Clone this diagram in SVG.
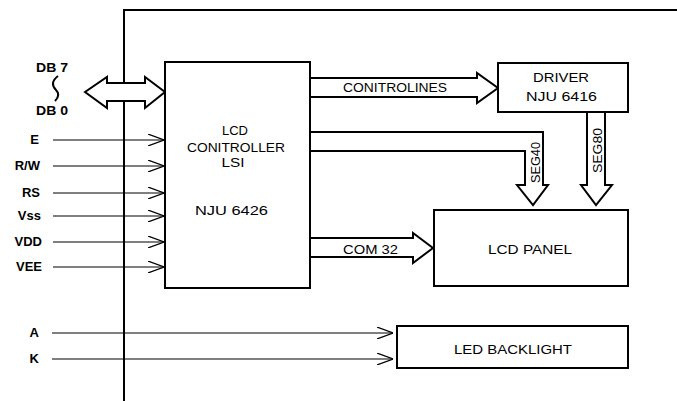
<svg xmlns="http://www.w3.org/2000/svg" width="677" height="401" viewBox="0 0 677 401">
<style>
.box{fill:#fff;stroke:#000;stroke-width:2}
.bus{fill:none;stroke:#000;stroke-width:2;stroke-linejoin:miter}
.sig{fill:none;stroke:#000;stroke-width:1.2}
.frame{fill:none;stroke:#000;stroke-width:2}
text{font-family:"Liberation Sans",Arial,sans-serif;font-size:13px;fill:#000}
.lbl{font-weight:bold}
.c{text-anchor:middle}
.r{text-anchor:end}
</style>
<defs>
<marker id="chev" viewBox="0 0 16 12" refX="16" refY="6" markerWidth="16" markerHeight="12" markerUnits="userSpaceOnUse" orient="auto">
<path d="M0,0 L16,6 L0,12" fill="none" stroke="#000" stroke-width="1.2"/>
</marker>
</defs>
<rect width="677" height="401" fill="#fff"/>
<g id="frame">
<path class="frame" d="M124,401 V10 H677"/>
</g>
<g id="connectors">
<path class="bus" d="M85,92 L107,77 L107,83 L145,83 L145,77 L165,92 L145,108 L145,101 L107,101 L107,108 Z" style="fill:#fff"/>
<path d="M58,76 Q49,83 56,90 Q61,95 55,101" fill="none" stroke="#000" stroke-width="2"/>
<line class="sig" x1="53" y1="140" x2="164" y2="140" marker-end="url(#chev)"/>
<line class="sig" x1="53" y1="166" x2="164" y2="166" marker-end="url(#chev)"/>
<line class="sig" x1="53" y1="193" x2="164" y2="193" marker-end="url(#chev)"/>
<line class="sig" x1="53" y1="216" x2="164" y2="216" marker-end="url(#chev)"/>
<line class="sig" x1="53" y1="242" x2="164" y2="242" marker-end="url(#chev)"/>
<line class="sig" x1="53" y1="267" x2="164" y2="267" marker-end="url(#chev)"/>
<line class="sig" x1="52" y1="333" x2="393" y2="333" marker-end="url(#chev)"/>
<line class="sig" x1="52" y1="359" x2="393" y2="359" marker-end="url(#chev)"/>
<path class="bus" d="M310,78 H477 V73 L498,88 L477,103 V97 H310"/>
<path class="bus" d="M310,132 H543 V185 H548 L533,205 L517,185 H525 V151 H310"/>
<path class="bus" d="M587,112 V185 H581 L596,205 L612,185 H605 V112"/>
<path class="bus" d="M310,238 H413 V233 L433,248 L413,263 V257 H310"/>
<text x="343" y="92" textLength="104" lengthAdjust="spacingAndGlyphs">CONITROLINES</text>
<text x="398" y="254" class="r" textLength="55" lengthAdjust="spacingAndGlyphs">COM 32</text>
<text transform="translate(540,183) rotate(-90)" textLength="41" lengthAdjust="spacingAndGlyphs">SEG40</text>
<text transform="translate(602,173) rotate(-90)" textLength="45" lengthAdjust="spacingAndGlyphs">SEG80</text>
</g>
<g id="labels">
<text class="lbl" x="36" y="72" textLength="32" lengthAdjust="spacingAndGlyphs">DB 7</text>
<text class="lbl" x="36" y="115" textLength="32" lengthAdjust="spacingAndGlyphs">DB 0</text>
<text class="lbl r" x="39" y="144">E</text>
<text class="lbl r" x="40" y="170">R/W</text>
<text class="lbl r" x="40" y="197">RS</text>
<text class="lbl r" x="41" y="220">Vss</text>
<text class="lbl r" x="42" y="246">VDD</text>
<text class="lbl r" x="42" y="271">VEE</text>
<text class="lbl r" x="39" y="337">A</text>
<text class="lbl r" x="39" y="363">K</text>
</g>
<g id="controller">
<rect class="box" x="165" y="62" width="145" height="226"/>
<text class="c" x="235" y="135" textLength="26" lengthAdjust="spacingAndGlyphs">LCD</text>
<text class="c" x="236" y="152" textLength="98" lengthAdjust="spacingAndGlyphs">CONITROLLER</text>
<text class="c" x="233" y="167" textLength="23" lengthAdjust="spacingAndGlyphs">LSI</text>
<text class="c" x="231.5" y="215" textLength="73" lengthAdjust="spacingAndGlyphs">NJU 6426</text>
</g>
<g id="driver">
<rect class="box" x="498" y="63" width="130" height="49"/>
<text class="c" x="561" y="82" textLength="56" lengthAdjust="spacingAndGlyphs">DRIVER</text>
<text class="c" x="561.5" y="101" textLength="71" lengthAdjust="spacingAndGlyphs">NJU 6416</text>
</g>
<g id="lcd-panel">
<rect class="box" x="434" y="210" width="194" height="76"/>
<text class="c" x="530" y="254" textLength="84" lengthAdjust="spacingAndGlyphs">LCD PANEL</text>
</g>
<g id="led-backlight">
<rect class="box" x="397" y="326" width="231" height="42"/>
<text class="c" x="513" y="354" textLength="118" lengthAdjust="spacingAndGlyphs">LED BACKLIGHT</text>
</g>
</svg>
